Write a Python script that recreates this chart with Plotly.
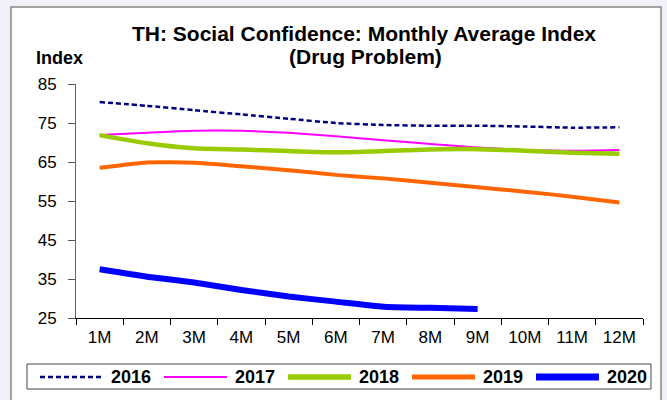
import plotly.graph_objects as go

months = ["1M", "2M", "3M", "4M", "5M", "6M", "7M", "8M", "9M", "10M", "11M", "12M"]
y2016 = [80.4, 79.4, 78.3, 77.2, 76.1, 75.0, 74.5, 74.3, 74.3, 74.1, 73.8, 73.9]
y2017 = [71.9, 72.5, 73.0, 73.0, 72.5, 71.6, 70.6, 69.6, 68.7, 68.1, 67.9, 68.1]
y2018 = [71.9, 69.8, 68.5, 68.2, 67.8, 67.5, 67.8, 68.2, 68.3, 67.9, 67.4, 67.1]
y2019 = [63.5, 64.9, 64.8, 63.9, 62.9, 61.7, 60.8, 59.7, 58.5, 57.4, 56.1, 54.6]
y2020 = [37.5, 35.6, 34.1, 32.2, 30.5, 29.2, 27.9, 27.6, 27.3, None, None, None]
y_ticks = [25, 35, 45, 55, 65, 75, 85]

FONT = "Liberation Sans, Arial, sans-serif"

series = [
    ("2016", y2016, dict(color="#000080", width=2.5, dash="5px,3px")),
    ("2017", y2017, dict(color="#ff00ff", width=2)),
    ("2018", y2018, dict(color="#99cc00", width=4.5)),
    ("2019", y2019, dict(color="#ff6600", width=4)),
    ("2020", y2020, dict(color="#0000ff", width=6)),
]

# plot area in pixels: x 76..643, y 84..318
PL, PR, PT, PB = 76, 643, 84, 318
def px(x):
    return (x - PL) / (PR - PL)
def py(y):
    return (PB - y) / (PB - PT)

fig = go.Figure()
for name, vals, line in series:
    fig.add_trace(go.Scatter(
        x=months, y=vals, name=name, mode="lines",
        line=dict(shape="spline", smoothing=0.5, **line),
        connectgaps=False, showlegend=False,
    ))

shapes = [
    dict(type="rect", xref="paper", yref="paper",
         x0=px(11), x1=px(661), y0=py(402), y1=py(7),
         line=dict(color="#888888", width=1.5), fillcolor="white",
         layer="below"),
    dict(type="rect", xref="paper", yref="paper",
         x0=px(27), x1=px(651), y0=py(389), y1=py(364),
         line=dict(color="#444444", width=1), fillcolor="white",
         layer="below"),
]
annotations = [
    dict(text="<b>TH: Social Confidence: Monthly Average Index</b>",
         xref="paper", yref="paper", x=px(364), y=py(33),
         xanchor="center", yanchor="middle", showarrow=False,
         font=dict(size=21, family=FONT)),
    dict(text="<b>(Drug Problem)</b>",
         xref="paper", yref="paper", x=px(365), y=py(57),
         xanchor="center", yanchor="middle", showarrow=False,
         font=dict(size=21, family=FONT)),
    dict(text="<b>Index</b>",
         xref="paper", yref="paper", x=px(59.5), y=py(58),
         xanchor="center", yanchor="middle", showarrow=False,
         font=dict(size=18, family=FONT)),
]

# legend (drawn manually to match the long sample lines)
step = 124.0
for i, (name, vals, line) in enumerate(series):
    x0 = 40 + i * step
    seg = dict(type="line", xref="paper", yref="paper",
               x0=px(x0), x1=px(x0 + 63), y0=py(377), y1=py(377),
               line=dict(color=line["color"], width=line["width"] + (1 if line["width"] >= 4 else 0),
                         dash=line.get("dash", "solid")))
    shapes.append(seg)
    annotations.append(dict(text="<b>%s</b>" % name, xref="paper", yref="paper",
                            x=px(x0 + 69), y=py(377), xanchor="left", yanchor="middle",
                            showarrow=False, font=dict(size=18, family=FONT)))

fig.update_layout(
    width=667, height=400,
    margin=dict(l=PL, r=667 - PR, t=PT, b=400 - PB, autoexpand=False),
    paper_bgcolor="#f0f0f8",
    plot_bgcolor="white",
    font=dict(family=FONT, color="black"),
    showlegend=False,
    xaxis=dict(
        type="category", range=[-0.5, 11.5], tickson="boundaries",
        ticks="outside", ticklen=6, tickcolor="black",
        showline=True, linecolor="black", linewidth=1,
        showgrid=False, zeroline=False,
        tickfont=dict(size=17, family=FONT), ticklabelstandoff=4,
    ),
    yaxis=dict(
        range=[25, 85], tickvals=y_ticks,
        ticks="outside", ticklen=7, tickcolor="#555",
        showline=True, linecolor="#666", linewidth=1,
        showgrid=False, zeroline=False,
        tickfont=dict(size=17, family=FONT), ticklabelstandoff=8,
    ),
    shapes=shapes,
    annotations=annotations,
)

fig.write_html("out.html",
               config={"displayModeBar": False},
               post_script="document.body.style.margin='0';document.body.style.overflow='hidden';")
